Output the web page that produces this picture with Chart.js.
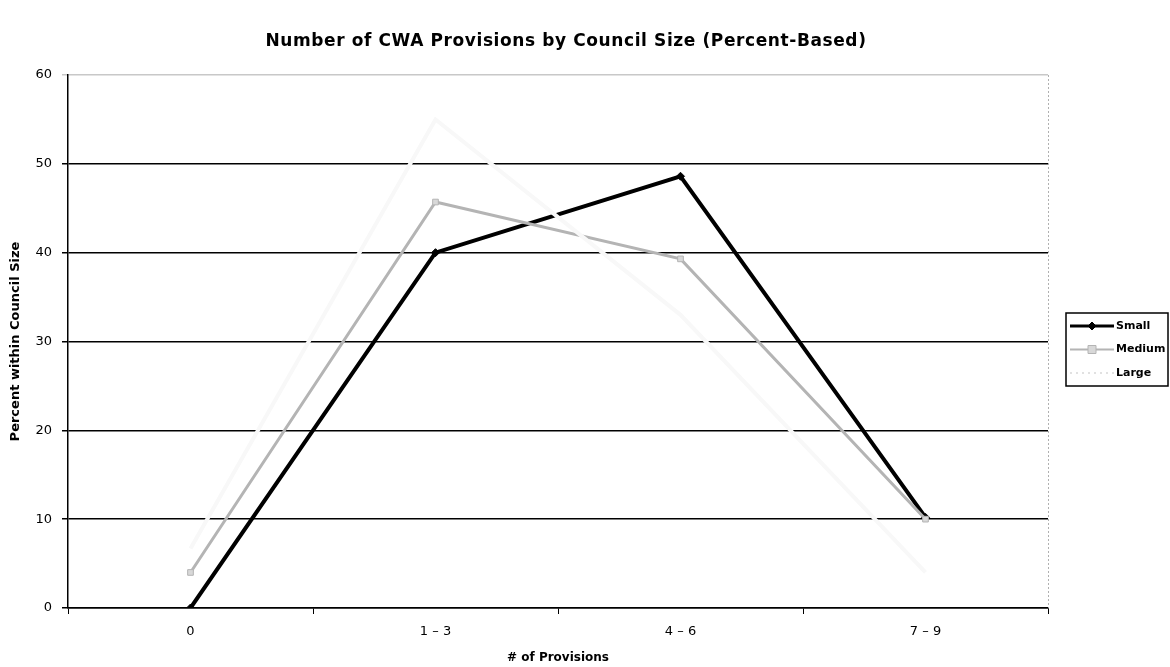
<!DOCTYPE html>
<html>
<head>
<meta charset="utf-8">
<script src="https://cdn.jsdelivr.net/npm/chart.js@4/dist/chart.umd.min.js"></script>
<style>
  html, body { margin: 0; padding: 0; background: #fff; }
  #wrap { width: 1170px; height: 667px; }
</style>
</head>
<body>
<div id="wrap"><canvas id="canvas" width="1170" height="667"></canvas></div>
<script>
var chartTitle = "Number of CWA Provisions by Council Size (Percent-Based)";
var categories = ["0", "1 \u2013 3", "4 \u2013 6", "7 \u2013 9"];
var smallValues = [0, 40, 48.6, 10.2];
var mediumValues = [4, 45.7, 39.3, 10];
var largeValues = [6.7, 55, 33, 4];
var yTicks = [0, 10, 20, 30, 40, 50, 60];

var fontFamily = "'DejaVu Sans', Arial, sans-serif";

var seriesStyles = [
  { label: "Small", color: "#000000", width: 4, point: "rectRot", radius: 4 },
  { label: "Medium", color: "#b4b4b4", width: 3, point: "rect", radius: 4 },
  { label: "Large", color: "#f8f8f8", width: 4, point: false, radius: 0 }
];

// title, dotted right border and boxed legend, like the old excel chart
var boxPlugin = {
  id: "boxPlugin",
  afterDraw: function(chart) {
    var ctx = chart.ctx;
    var area = chart.chartArea;
    ctx.save();

    ctx.fillStyle = "#000";
    ctx.font = "bold 17px " + fontFamily;
    ctx.textAlign = "center";
    ctx.textBaseline = "middle";
    ctx.letterSpacing = "0.6px";
    ctx.fillText(chartTitle, 566, 42);
    ctx.letterSpacing = "0px";

    ctx.strokeStyle = "#b0b0b0";
    ctx.lineWidth = 1;
    ctx.setLineDash([2, 2]);
    ctx.beginPath();
    ctx.moveTo(area.right + 0.5, area.top);
    ctx.lineTo(area.right + 0.5, area.bottom);
    ctx.stroke();
    ctx.setLineDash([]);

    // legend
    var bx = 1066, by = 313, bw = 102, bh = 73;
    ctx.strokeStyle = "#000";
    ctx.lineWidth = 1.5;
    ctx.strokeRect(bx, by, bw, bh);
    ctx.font = "bold 11px " + fontFamily;
    ctx.textAlign = "left";
    seriesStyles.forEach(function(s, i) {
      var y = by + 13 + i * 23.5;
      ctx.strokeStyle = s.label == "Large" ? "#d8d8d8" : s.color;
      ctx.lineWidth = s.label == "Large" ? 1.5 : s.width - 1;
      if (s.label == "Large") ctx.setLineDash([2, 4]);
      ctx.beginPath();
      ctx.moveTo(bx + 4, y);
      ctx.lineTo(bx + 48, y);
      ctx.stroke();
      ctx.setLineDash([]);
      if (s.point) {
        ctx.fillStyle = s.label == "Medium" ? "#d8d8d8" : s.color;
        ctx.strokeStyle = s.color;
        ctx.lineWidth = 1;
        ctx.beginPath();
        if (s.point == "rectRot") {
          ctx.moveTo(bx + 26, y - 4); ctx.lineTo(bx + 30, y); ctx.lineTo(bx + 26, y + 4); ctx.lineTo(bx + 22, y);
        } else {
          ctx.rect(bx + 22, y - 4, 8, 8);
        }
        ctx.closePath();
        ctx.fill();
        ctx.stroke();
      }
      ctx.fillStyle = "#000";
      ctx.fillText(s.label, bx + 50, y);
    });
    ctx.restore();
  }
};

var allValues = [smallValues, mediumValues, largeValues];
var datasets = seriesStyles.map(function(s, i) {
  return {
    label: s.label,
    data: allValues[i],
    borderColor: s.color,
    backgroundColor: s.label == "Medium" ? "#d8d8d8" : s.color,
    borderWidth: s.width,
    pointStyle: s.point,
    pointRadius: s.radius,
    pointBorderWidth: 1,
    pointBorderColor: s.color,
    tension: 0,
    order: 2 - i
  };
});

var chart = new Chart(document.getElementById("canvas").getContext("2d"), {
  type: "line",
  data: { labels: categories, datasets: datasets },
  plugins: [boxPlugin],
  options: {
    responsive: false,
    animation: false,
    layout: { padding: { left: 0, right: 122, top: 75, bottom: 0 } },
    plugins: {
      legend: { display: false },
      tooltip: { enabled: false },
      title: { display: false }
    },
    scales: {
      x: {
        offset: true,
        afterFit: function(scale) { scale.height = 59; },
        border: { color: "#000", width: 1.5 },
        grid: { offset: true, drawOnChartArea: false, drawTicks: true, tickLength: 6, color: "#000", lineWidth: 1 },
        ticks: {
          color: "#000",
          padding: 10,
          font: { family: fontFamily, size: 13 }
        },
        title: {
          display: true,
          text: "# of Provisions",
          color: "#000",
          font: { family: fontFamily, size: 12, weight: "bold" },
          padding: { top: 0, bottom: 2 }
        }
      },
      y: {
        min: 0,
        max: 60,
        afterFit: function(scale) { scale.width = 68; },
        afterBuildTicks: function(scale) {
          scale.ticks = yTicks.map(function(v) { return { value: v }; });
        },
        border: { color: "#000", width: 1.5 },
        grid: {
          color: function(c) { return c.tick && c.tick.value == 60 ? "#c8c8c8" : "#000"; },
          lineWidth: 1.5,
          drawTicks: true,
          tickLength: 6
        },
        ticks: {
          color: "#000",
          padding: 10,
          font: { family: fontFamily, size: 13 }
        },
        title: {
          display: true,
          text: "Percent within Council Size",
          color: "#000",
          font: { family: fontFamily, size: 13, weight: "bold" },
          padding: { top: 8, bottom: 0 }
        }
      }
    }
  }
});
</script>
</body>
</html>
